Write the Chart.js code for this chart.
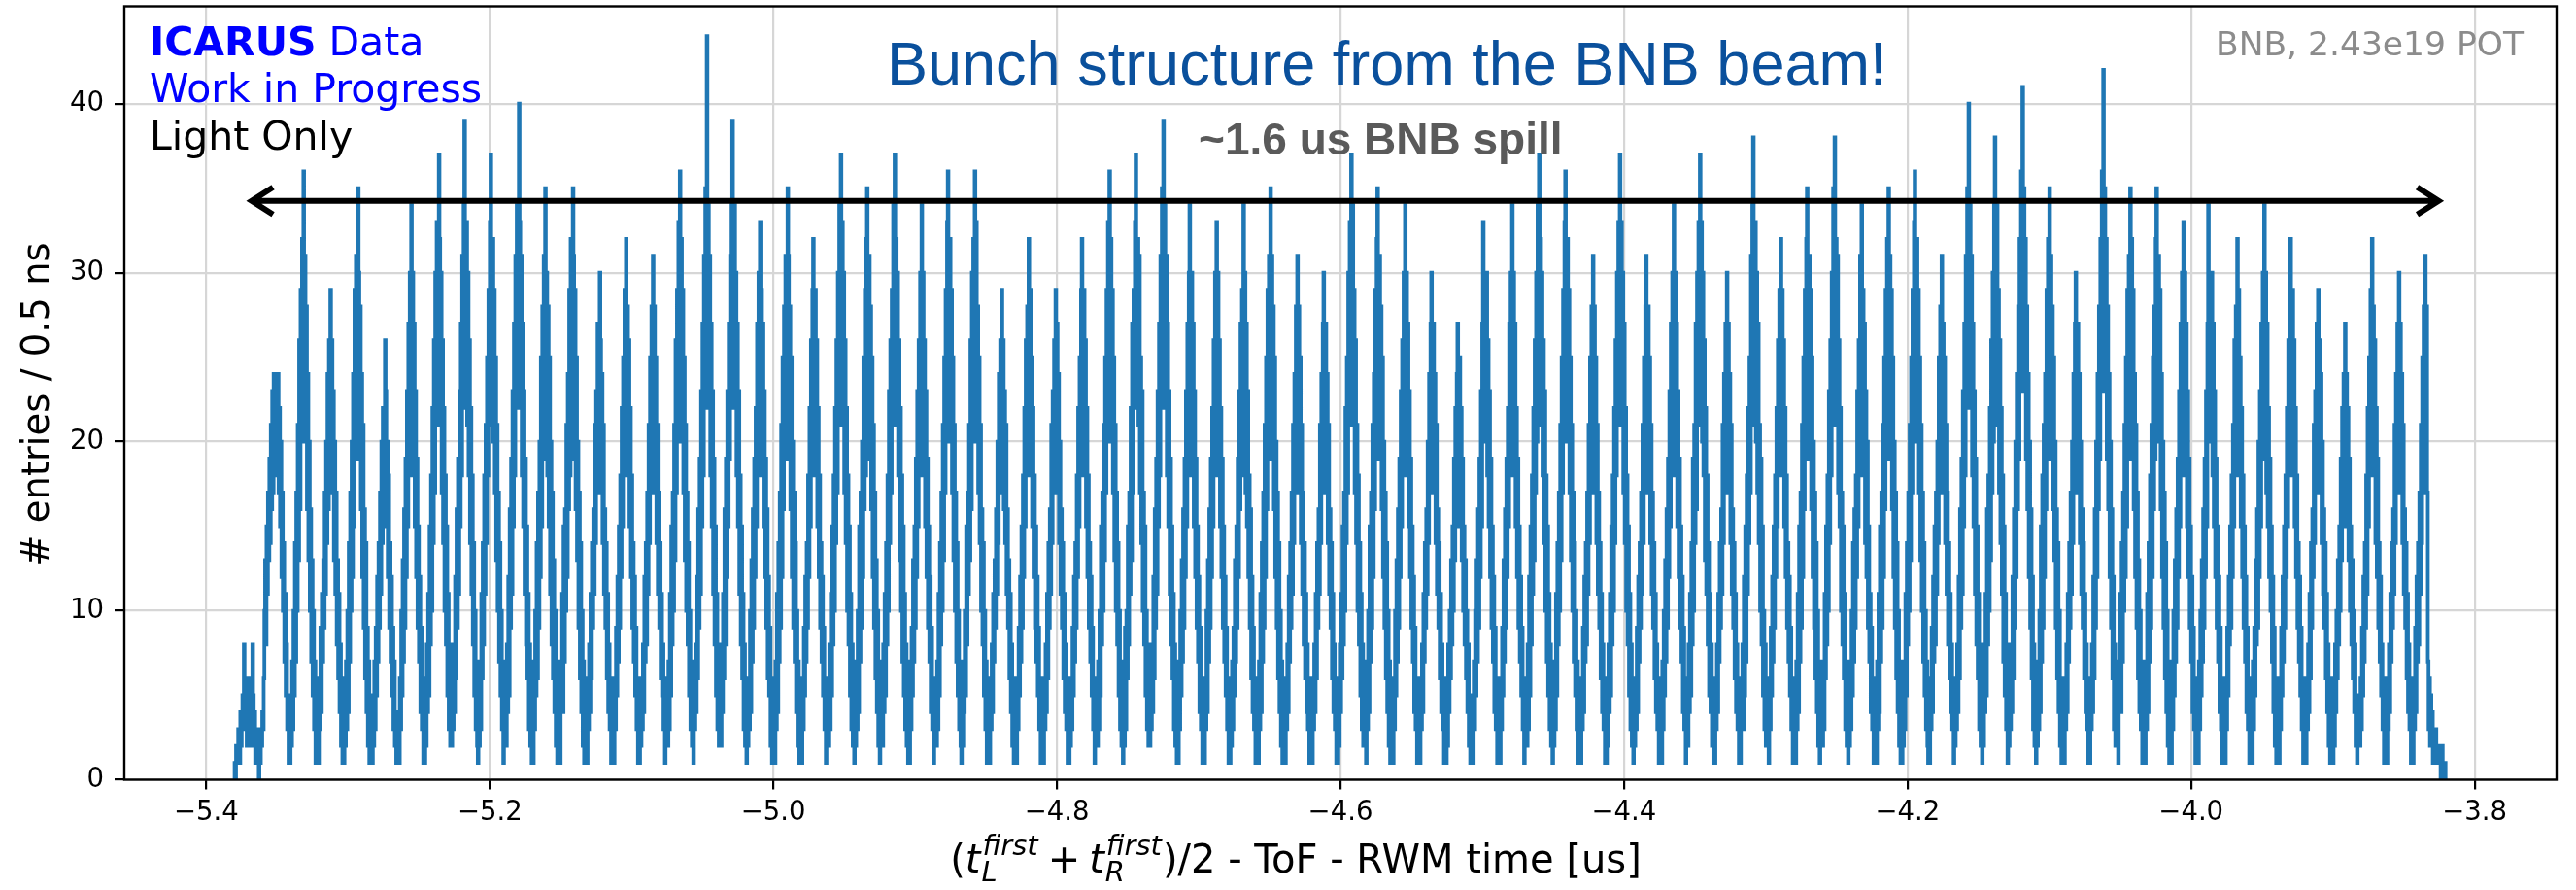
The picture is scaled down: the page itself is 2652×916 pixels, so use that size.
<!DOCTYPE html>
<html>
<head>
<meta charset="utf-8">
<title>BNB bunch structure</title>
<script src="https://cdn.jsdelivr.net/npm/chart.js@4.4.1/dist/chart.umd.min.js"></script>
<style>
  html, body { margin: 0; padding: 0; background: #fff; }
  canvas { display: block; }
</style>
</head>
<body>
<canvas id="spillChart" width="2652" height="916"></canvas>
<script>
// Histogram binning (times in us): 0.5 ns bins over the spill window
const binStart = -5.38;
const binWidth = 0.0005;

// Entries per bin, one row per RF bunch (~18.9 ns apart)
const bunchRows = [
  [1,0,2,1,1,3,2,1,4,2,3,5,4,8,3,6,5,2,4,3,6,2,5,4,3,8,5,2,4,1,3,2,1,3,0,2,1,3,2,4],
  [3,6,10,13,8,15,11,17,13,19,14,21,16,23,17,24,18,24,20,24,19,24,17,22,15,20,12,17,10,14,7,11,5,8,3,5,1,2],
  [1,5,2,7,3,10,5,14,7,17,10,21,13,26,16,29,20,32,23,36,22,31,20,28,16,24,13,20,10,16,7,13,5,10,3,7,1,4],
  [2,4,1,6,3,9,4,11,7,13,9,17,11,20,14,24,16,26,19,29,18,26,17,23,13,20,11,17,8,13,6,11,4,8,2,6,1,3],
  [1,4,2,7,3,10,4,14,7,17,10,20,12,24,15,29,19,31,22,27,35,30,19,28,16,24,12,21,9,16,6,14,4,9,2,7,1,3],
  [1,3,1,5,2,7,3,9,5,12,7,14,9,17,11,20,14,22,16,21,26,23,15,20,12,18,9,14,7,12,5,9,3,7,2,4,1,2],
  [2,4,1,6,3,10,5,13,7,16,9,19,12,23,15,27,18,30,21,34,20,30,18,27,15,23,12,19,9,15,7,12,4,9,3,6,1,3],
  [1,5,2,8,4,11,5,15,8,18,10,22,14,26,17,30,21,33,24,31,37,32,21,30,17,26,14,22,10,18,8,15,5,11,3,8,2,4],
  [2,5,3,8,4,12,6,16,9,19,11,23,15,27,18,31,22,34,39,28,24,33,21,30,18,26,14,22,11,18,8,14,5,10,3,7,2],
  [1,4,2,7,3,11,6,14,8,18,11,21,14,25,18,29,21,33,37,27,23,32,20,29,17,25,13,21,10,17,7,14,5,10,3,7,1,4],
  [2,5,2,8,4,12,5,16,9,19,11,23,15,27,18,31,22,34,25,30,40,33,22,31,18,27,15,23,11,19,8,15,6,11,3,8,2,4],
  [1,4,1,7,3,10,5,14,6,17,9,20,12,25,15,28,19,31,21,35,22,30,18,28,15,25,11,20,8,17,6,13,4,10,2,7,1,3],
  [2,5,1,7,4,11,4,15,7,16,10,21,12,24,16,29,18,32,22,28,35,31,19,29,16,25,13,20,9,17,6,14,4,10,2,7,1,4],
  [1,4,1,6,3,8,4,11,6,14,9,16,11,21,14,23,17,27,19,25,30,26,17,24,14,21,11,16,9,14,6,11,4,8,3,6,1,3],
  [2,4,1,6,3,9,5,12,7,15,9,18,12,22,15,25,18,29,21,32,20,28,18,26,15,22,12,18,9,14,7,12,5,9,3,6,1,3],
  [1,4,2,6,3,8,4,12,7,14,8,17,11,21,14,25,17,28,20,31,19,28,17,25,14,21,11,17,9,14,6,11,5,8,3,6,1,2],
  [2,5,2,7,3,11,5,15,8,17,10,21,13,26,17,29,20,33,23,36,22,32,20,29,17,25,13,21,10,17,8,14,5,10,3,7,2,4],
  [1,5,3,8,4,12,6,16,9,19,11,23,15,27,18,31,22,35,25,44,24,34,22,31,18,27,15,23,11,19,8,15,5,11,3,8,2],
  [2,5,2,8,4,11,6,16,8,19,12,23,15,27,19,31,22,34,39,27,25,34,22,30,18,27,15,23,11,18,8,15,6,11,3,8,2,4],
  [1,4,2,6,3,10,4,13,7,16,9,19,12,22,15,27,18,30,21,33,21,29,18,27,15,23,12,19,9,16,6,12,5,9,2,6,1,3],
  [2,5,1,7,3,11,4,14,7,17,9,21,12,25,16,28,19,31,22,27,35,31,19,28,16,25,12,20,9,17,7,14,4,10,2,7,1,4],
  [1,4,1,6,3,9,5,12,7,14,9,18,12,22,15,26,18,29,32,24,20,29,18,26,15,22,12,18,9,14,7,12,5,9,3,6,1,3],
  [2,5,2,8,3,11,5,15,8,18,10,22,14,26,17,30,21,34,24,37,23,33,21,30,17,26,14,22,10,18,8,15,5,11,3,8,2,4],
  [1,5,2,7,3,10,4,15,7,17,9,20,12,25,16,29,18,32,35,26,21,31,19,28,16,25,12,21,9,17,6,13,4,10,2,7,1,4],
  [2,4,2,8,4,11,5,14,8,18,10,23,14,26,17,29,21,34,24,37,23,32,21,30,18,26,13,22,10,18,7,15,5,11,3,8,2,4],
  [1,4,1,7,3,9,5,13,7,15,9,19,12,23,15,26,18,30,22,34,20,30,18,26,15,23,12,19,9,15,7,12,4,9,3,6,1,3],
  [2,5,2,7,3,11,5,14,8,17,10,21,13,25,17,29,20,33,36,27,22,32,20,29,17,25,13,21,10,17,7,14,5,10,3,7,2],
  [1,5,2,7,4,10,5,15,8,17,11,21,13,26,16,30,20,32,23,36,22,33,20,28,17,25,14,21,10,16,8,14,5,10,3,7,1,4],
  [2,4,1,6,3,8,4,11,7,13,9,16,11,20,14,24,17,26,19,29,18,26,16,23,14,21,11,16,9,13,6,11,4,8,2,6,1,3],
  [1,4,1,6,3,9,5,12,7,15,9,18,12,22,15,26,18,28,21,32,20,29,18,25,15,22,12,18,9,15,7,12,5,9,3,6,1,3],
  [2,4,1,6,3,8,4,11,6,14,9,16,11,21,14,23,17,26,20,29,19,27,17,24,14,20,11,16,9,14,6,11,4,8,3,6,1,3],
  [1,4,2,6,3,9,5,12,7,14,9,18,12,22,15,25,18,29,32,24,20,29,18,26,15,22,12,18,9,14,7,12,5,9,3,6,1,3],
  [2,5,2,7,3,10,5,15,8,17,10,21,13,25,17,29,20,33,23,36,22,32,20,29,17,25,13,21,10,17,8,14,5,10,3,7,2,4],
  [1,4,2,9,3,10,6,15,8,17,11,22,13,27,17,29,22,33,37,28,23,32,21,31,17,25,14,23,10,17,8,15,5,10,3,8,2,4],
  [2,5,3,8,4,12,6,16,9,19,11,23,15,27,18,31,22,35,25,39,24,34,22,31,18,27,15,23,11,19,8,15,6,11,3,8,2,4],
  [1,4,1,7,3,10,5,13,7,16,9,19,12,23,15,27,18,30,34,25,21,30,18,27,15,23,12,19,9,15,7,12,4,9,3,6,1],
  [2,4,1,6,3,10,4,13,7,16,9,19,12,22,15,26,18,30,21,33,20,30,18,26,15,22,12,19,9,15,7,12,5,9,3,6,1,3],
  [1,4,2,7,3,9,5,13,7,15,9,19,12,23,16,27,18,29,21,34,21,30,17,27,15,23,12,18,9,16,6,12,4,9,3,6,1,3],
  [2,5,1,7,3,11,4,14,7,17,9,21,12,25,16,29,19,31,22,35,21,31,19,28,16,25,12,20,9,17,6,14,4,10,2,7,1,4],
  [1,4,1,6,3,8,4,12,7,14,9,17,11,21,14,24,17,28,20,31,19,28,17,25,14,21,11,17,8,14,6,11,4,8,3,6,1,3],
  [2,4,1,6,3,8,4,11,6,14,9,16,11,21,14,24,17,27,30,22,19,27,17,24,14,21,11,16,9,14,6,11,4,8,3,6,1,3],
  [1,5,2,8,4,11,6,15,8,17,10,22,14,25,17,30,21,33,24,37,23,34,21,29,17,26,14,21,10,18,8,14,5,11,3,8,2,4],
  [2,5,1,7,3,10,4,15,7,17,9,21,12,24,16,29,19,32,35,26,21,31,19,28,16,25,12,20,9,17,6,14,4,10,2,7,1,4],
  [1,4,1,6,3,10,5,13,7,16,9,19,12,23,15,26,18,30,21,34,20,30,18,27,15,23,12,19,9,15,7,12,4,9,3,6,1,3],
  [2,4,1,6,3,8,4,11,7,14,9,16,11,20,14,24,17,27,30,22,19,27,17,24,14,21,11,16,9,14,6,11,4,8,3,6,1],
  [1,3,1,6,2,8,4,10,6,13,8,15,10,19,13,22,15,24,27,20,17,25,15,22,13,19,10,15,8,13,6,10,4,8,2,5,1,3],
  [1,4,1,7,3,10,5,13,7,16,9,19,12,23,15,27,33,30,21,27,20,30,18,26,15,23,12,19,9,15,7,12,4,9,3,6,1,3],
  [2,4,1,6,3,9,5,13,7,16,9,19,12,22,15,27,18,30,21,34,21,30,18,27,15,22,12,19,9,15,7,12,5,9,3,6,1,3],
  [2,5,2,8,3,12,5,15,8,18,11,22,13,26,17,30,20,34,24,37,23,32,21,30,18,26,14,23,10,18,7,15,5,11,3,8,2,4],
  [1,5,2,7,3,11,5,14,8,17,10,21,13,25,17,29,20,33,36,27,22,32,20,29,17,25,13,21,10,17,7,14,5,10,3,7,1,4],
  [2,4,1,6,3,9,4,12,7,14,8,17,11,21,14,25,17,28,20,31,19,28,17,25,14,21,11,17,9,14,6,11,4,8,3,6,1,3],
  [1,5,2,8,4,11,5,15,8,18,10,22,14,26,18,30,21,33,24,37,23,33,21,30,17,27,14,22,10,18,8,15,5,11,3,8,2,4],
  [1,4,2,6,3,9,4,12,7,14,9,17,11,21,14,25,17,28,31,23,19,28,17,25,14,21,11,17,9,14,6,11,4,8,3,6,1,3],
  [2,4,1,7,3,10,5,13,7,16,9,19,12,23,15,27,18,30,21,34,20,30,18,27,15,23,12,19,9,15,7,12,4,9,3,6,1],
  [2,6,2,8,4,11,5,14,8,19,10,21,14,27,16,30,21,33,25,37,22,33,20,30,18,26,13,22,11,18,8,14,5,11,4,8,2,3],
  [1,4,1,6,3,8,4,11,7,14,9,16,11,21,14,24,17,27,20,30,19,27,17,24,14,21,11,16,9,14,6,11,4,8,3,6,1,3],
  [1,5,3,8,3,12,5,15,7,18,11,22,14,25,17,31,21,34,38,28,24,33,20,30,17,27,14,21,10,19,8,15,5,10,3,8,2,4],
  [2,4,1,6,3,9,5,12,7,15,9,18,12,22,15,26,18,29,21,32,20,29,18,26,15,22,12,18,9,14,7,12,5,9,3,6,1,3],
  [1,5,1,7,3,11,4,15,7,17,9,21,12,25,16,29,19,32,35,26,21,31,19,29,16,25,12,20,9,17,6,14,4,10,2,7,1,4],
  [2,5,2,7,3,11,6,15,8,18,10,23,14,26,18,30,21,35,24,38,23,32,21,31,17,26,15,22,10,17,8,15,6,11,3,7,2,4],
  [1,4,2,7,3,10,5,14,7,16,9,18,12,23,15,26,18,31,21,34,20,29,18,27,14,23,12,20,9,15,7,11,4,9,3,6,1,3],
  [2,5,1,7,3,11,4,15,7,17,9,21,12,25,16,29,19,32,22,35,21,31,19,29,16,25,12,20,9,17,6,14,4,10,2,7,1,4],
  [1,5,2,7,3,11,5,14,8,17,10,21,13,25,17,29,20,33,36,27,22,32,20,29,17,25,13,21,10,17,7,14,5,10,3,7,2],
  [1,4,1,6,3,9,4,12,7,15,8,17,11,20,14,25,17,28,20,31,19,27,17,25,14,21,11,17,8,14,6,11,4,8,3,6,1,3],
  [2,5,3,8,4,12,6,16,9,19,11,23,15,27,18,31,22,35,25,40,24,34,22,31,18,27,15,23,11,19,8,15,6,11,3,8,2,4],
  [1,5,2,8,4,11,5,16,8,18,10,22,13,26,17,30,20,34,38,27,23,34,21,29,17,26,14,22,11,18,7,15,5,11,3,8,1,4],
  [2,5,3,8,4,12,6,16,9,20,12,24,16,28,19,32,23,36,26,41,25,35,23,32,19,28,16,24,12,20,9,16,6,12,3,8,2,4],
  [1,5,2,7,3,10,4,15,7,18,9,21,12,24,16,29,19,32,22,35,22,31,19,28,16,25,13,20,9,16,6,14,4,10,2,6,1,4],
  [1,4,1,6,3,8,4,11,7,14,9,17,11,20,14,24,17,27,30,22,19,27,17,24,14,20,11,16,9,14,6,11,4,8,3,6,1,3],
  [1,5,3,8,4,12,6,16,9,20,12,24,16,28,19,32,23,36,26,42,25,35,23,32,19,28,16,24,12,20,9,16,6,12,3,8,2,4],
  [2,4,1,7,4,11,4,14,7,17,10,21,12,25,15,29,19,31,22,35,21,32,19,29,16,24,12,21,9,17,6,13,4,10,3,7,1,4],
  [1,4,1,7,3,11,4,14,7,18,9,21,12,25,16,28,19,32,35,26,21,31,20,29,16,24,12,20,9,17,6,14,4,10,2,7,1],
  [2,4,1,7,3,10,5,13,7,16,9,19,12,23,15,27,18,30,21,33,20,30,18,27,15,23,12,19,9,15,7,12,4,9,3,6,1,3],
  [1,4,1,7,3,10,5,13,7,16,9,19,12,23,15,27,34,30,21,27,20,30,18,27,15,23,12,19,9,15,7,12,4,9,3,6,1,3],
  [1,4,1,6,3,9,5,12,8,15,9,18,12,21,15,26,18,28,21,32,21,29,18,25,15,22,12,18,9,15,7,12,4,9,3,6,1,3],
  [2,4,1,7,3,9,5,13,8,16,9,20,12,23,15,27,19,30,21,34,21,30,17,27,15,22,12,19,10,15,7,12,4,9,2,6,1,3],
  [2,4,1,6,3,9,5,12,7,15,9,18,12,22,15,26,18,29,32,24,20,29,18,26,15,22,12,18,9,14,7,12,5,9,3,6,1,3],
  [2,4,1,6,3,8,4,11,6,14,9,16,12,21,14,23,17,27,20,29,19,26,17,24,14,20,11,16,9,14,6,11,4,8,2,6,1,3],
  [2,3,1,6,2,8,4,10,6,13,8,15,10,19,13,22,15,24,18,27,17,24,15,22,13,19,10,15,8,13,6,10,4,8,2,5,1,3],
  [2,4,2,6,3,9,5,12,7,14,9,18,11,22,15,25,18,29,22,32,20,28,18,26,14,22,12,19,9,14,7,12,5,8,3,6,1,3],
  [2,4,1,6,3,8,4,11,7,14,9,16,11,21,14,24,17,27,20,30,19,27,17,24,14,21,11,16,9,14,6,11,4,8,3,6,1],
  [1,4,1,6,3,9,4,12,7,14,8,17,11,21,14,25,17,28,20,31,19,28,17,7,3,6,2,5,2,4,1,3,2,1,3,1,2,1,2,1,2,0,1,2,1,0,1,1,0]
];
const entries = bunchRows.flat();

// Axis ranges and ticks
const xRange = [-5.4578, -3.7422];
const yRange = [0, 45.76];
const xTicks = [-5.4, -5.2, -5.0, -4.8, -4.6, -4.4, -4.2, -4.0, -3.8];
const yTicks = [0, 10, 20, 30, 40];

// Spill arrow and its label (data coordinates)
const spillFrom = -5.368;
const spillTo = -3.8254;
const arrowLevel = 34.25;
const spillLabel = { x: -4.7, y: 37, text: '~1.6 us BNB spill' };

const FONT = '"DejaVu Sans"';
const minus = (s) => s.replace('-', '\u2212');

// step outline: left bin edges, closed to zero at both ends
const histPoints = [{ x: binStart, y: 0 }];
entries.forEach((n, i) => histPoints.push({ x: binStart + i * binWidth, y: n }));
histPoints.push({ x: binStart + entries.length * binWidth, y: 0 });

function drawXLabel(ctx, cx, baseline) {
  const big = 40, small = 29;
  const opSpace = 9;
  const runs = [
    { t: '(', f: `${big}px ${FONT}` },
    { t: 't', f: `italic ${big}px ${FONT}` },
    { sub: 'L', sup: 'first' },
    { t: '+', f: `${big}px ${FONT}`, pad: opSpace },
    { t: 't', f: `italic ${big}px ${FONT}` },
    { sub: 'R', sup: 'first' },
    { t: ')/2', f: `${big}px ${FONT}` },
    { t: ' - ToF - RWM time [us]', f: `${big}px ${FONT}` }
  ];
  const sf = `italic ${small}px ${FONT}`;
  const widths = runs.map(r => {
    if (r.t) { ctx.font = r.f; return ctx.measureText(r.t).width + 2 * (r.pad || 0); }
    ctx.font = sf;
    return Math.max(ctx.measureText(r.sub).width, ctx.measureText(r.sup).width) + 3;
  });
  let x = cx - widths.reduce((a, b) => a + b, 0) / 2;
  ctx.textAlign = 'left';
  ctx.textBaseline = 'alphabetic';
  runs.forEach((r, i) => {
    if (r.t) {
      ctx.font = r.f;
      ctx.fillText(r.t, x + (r.pad || 0), baseline);
    } else {
      ctx.font = sf;
      ctx.fillText(r.sub, x + 1, baseline + 9);
      ctx.fillText(r.sup, x + 2, baseline - 18);
    }
    x += widths[i];
  });
}

const overlay = {
  id: 'overlay',
  afterDatasetsDraw(chart) {
    const { ctx, chartArea: area, scales: { x, y } } = chart;
    ctx.save();

    // axes frame
    ctx.strokeStyle = '#000';
    ctx.lineWidth = 2.4;
    ctx.strokeRect(area.left, area.top, area.right - area.left, area.bottom - area.top);

    // double-headed spill arrow
    const xa = x.getPixelForValue(spillFrom);
    const xb = x.getPixelForValue(spillTo);
    const ya = y.getPixelForValue(arrowLevel);
    ctx.lineWidth = 6;
    ctx.lineJoin = 'miter';
    ctx.beginPath();
    ctx.moveTo(xa, ya);
    ctx.lineTo(xb, ya);
    ctx.moveTo(xa + 22, ya - 14);
    ctx.lineTo(xa, ya);
    ctx.lineTo(xa + 22, ya + 14);
    ctx.moveTo(xb - 22, ya - 14);
    ctx.lineTo(xb, ya);
    ctx.lineTo(xb - 22, ya + 14);
    ctx.stroke();

    ctx.textAlign = 'left';
    ctx.textBaseline = 'alphabetic';

    // experiment tag
    ctx.fillStyle = '#0000ff';
    ctx.font = `bold 41px ${FONT}`;
    ctx.fillText('ICARUS', 154, 57);
    const wIcarus = ctx.measureText('ICARUS').width;
    ctx.font = `41px ${FONT}`;
    ctx.fillText('Data', 154 + wIcarus + ctx.measureText(' ').width, 57);
    ctx.fillText('Work in Progress', 154, 105);
    ctx.fillStyle = '#000';
    ctx.fillText('Light Only', 154, 154);

    // headline
    ctx.fillStyle = '#0a509c';
    ctx.font = '63px "Liberation Sans"';
    ctx.fillText('Bunch structure from the BNB beam!', 913, 87);

    // spill length label
    ctx.fillStyle = '#5a5a5a';
    ctx.font = 'bold 46px "Liberation Sans"';
    ctx.fillText(spillLabel.text, x.getPixelForValue(spillLabel.x), y.getPixelForValue(spillLabel.y));

    // exposure
    ctx.fillStyle = '#8c8c8c';
    ctx.font = `34.5px ${FONT}`;
    ctx.textAlign = 'right';
    ctx.fillText('BNB, 2.43e19 POT', 2598, 57);
    ctx.restore();
  },
  afterDraw(chart) {
    const { ctx } = chart;
    ctx.save();
    ctx.fillStyle = '#000';
    // y axis title
    ctx.translate(50, 416);
    ctx.rotate(-Math.PI / 2);
    ctx.textAlign = 'center';
    ctx.textBaseline = 'alphabetic';
    ctx.font = `38.5px ${FONT}`;
    ctx.fillText('# entries / 0.5 ns', 0, 0);
    ctx.restore();

    ctx.save();
    ctx.fillStyle = '#000';
    drawXLabel(ctx, 1334, 898);
    ctx.restore();
  }
};

const config = {
  type: 'line',
  data: {
    datasets: [{
      data: histPoints,
      borderColor: '#1f77b4',
      borderWidth: 3.8,
      stepped: true,
      pointRadius: 0,
      fill: false,
      clip: 0
    }]
  },
  options: {
    responsive: false,
    devicePixelRatio: 1,
    animation: false,
    parsing: false,
    normalized: true,
    events: [],
    layout: { padding: { top: 6.5, right: 20, left: 0, bottom: 0 } },
    plugins: { legend: { display: false }, tooltip: { enabled: false } },
    scales: {
      x: {
        type: 'linear',
        min: xRange[0],
        max: xRange[1],
        afterBuildTicks: (axis) => { axis.ticks = xTicks.map(v => ({ value: v })); },
        afterFit: (axis) => {
          axis.height = 113.5;
          axis.paddingLeft = 0;
          axis.paddingRight = 0;
        },
        ticks: {
          callback: (v) => minus(v.toFixed(1)),
          font: { family: 'DejaVu Sans', size: 27.5 },
          color: '#000',
          padding: 8,
          maxRotation: 0,
          autoSkip: false
        },
        grid: { color: '#d6d6d6', lineWidth: 2.2, tickLength: 10, tickColor: '#000', tickWidth: 2.2 },
        border: { display: false }
      },
      y: {
        type: 'linear',
        min: yRange[0],
        max: yRange[1],
        afterBuildTicks: (axis) => { axis.ticks = yTicks.map(v => ({ value: v })); },
        afterFit: (axis) => {
          axis.width = 128;
          axis.paddingTop = 0;
          axis.paddingBottom = 0;
        },
        ticks: {
          callback: (v) => String(v),
          font: { family: 'DejaVu Sans', size: 27.5 },
          color: '#000',
          padding: 11,
          autoSkip: false
        },
        grid: { color: '#d6d6d6', lineWidth: 2.2, tickLength: 10, tickColor: '#000', tickWidth: 2.2 },
        border: { display: false }
      }
    }
  },
  plugins: [overlay]
};

const spillChart = new Chart(document.getElementById('spillChart'), config);
</script>
</body>
</html>
